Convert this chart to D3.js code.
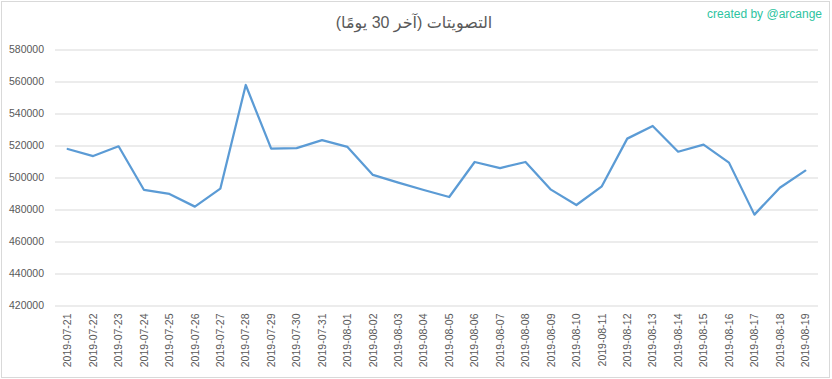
<!DOCTYPE html>
<html>
<head>
<meta charset="utf-8">
<script src="https://cdn.jsdelivr.net/npm/d3@7"></script>
<style>
  body { margin: 0; background: #fff; }
  svg text { font-family: "Liberation Sans", "DejaVu Sans", sans-serif; }
</style>
</head>
<body>
<div id="chart"></div>
<script>
var svgWidth = 832;
var svgHeight = 379;

// chart data
var dates = ["2019-07-21", "2019-07-22", "2019-07-23", "2019-07-24", "2019-07-25",
  "2019-07-26", "2019-07-27", "2019-07-28", "2019-07-29", "2019-07-30",
  "2019-07-31", "2019-08-01", "2019-08-02", "2019-08-03", "2019-08-04",
  "2019-08-05", "2019-08-06", "2019-08-07", "2019-08-08", "2019-08-09",
  "2019-08-10", "2019-08-11", "2019-08-12", "2019-08-13", "2019-08-14",
  "2019-08-15", "2019-08-16", "2019-08-17", "2019-08-18", "2019-08-19"];
var votes = [517800, 513400, 519500, 492200, 489700,
  481800, 493000, 557800, 518000, 518400,
  523400, 519100, 501600, 496800, 492200,
  487800, 509700, 505900, 509700, 492400,
  482800, 494500, 524300, 532200, 516100,
  520500, 509300, 476800, 493600, 504300];
var yTicks = [420000, 440000, 460000, 480000, 500000, 520000, 540000, 560000, 580000];

var titleText = "التصويتات (آخر 30 يومًا)";
var creditText = "created by @arcange";

var margin = { top: 49.5, right: 14, bottom: 73.5, left: 55 };
var width = svgWidth - margin.left - margin.right;
var height = svgHeight - margin.top - margin.bottom;

var svg = d3.select("#chart")
  .append("svg")
  .attr("width", svgWidth)
  .attr("height", svgHeight);

// outer border
svg.append("rect")
  .attr("x", 1.5)
  .attr("y", 1.5)
  .attr("width", 828)
  .attr("height", 376)
  .attr("fill", "#fff")
  .attr("stroke", "#d9d9d9");

var chartGroup = svg.append("g")
  .attr("transform", `translate(${margin.left}, ${margin.top})`);

// scales
var xScale = d3.scaleBand()
  .domain(dates)
  .range([0, width]);

var yScale = d3.scaleLinear()
  .domain([420000, 580000])
  .range([height, 0]);

// grid lines + y labels
var yAxis = d3.axisLeft(yScale)
  .tickValues(yTicks)
  .tickSize(-width)
  .tickPadding(11)
  .tickFormat(d3.format("d"));

var yAxisGroup = chartGroup.append("g").call(yAxis);
yAxisGroup.select(".domain").remove();
yAxisGroup.selectAll("line")
  .attr("stroke", "#d9d9d9");
yAxisGroup.selectAll("text")
  .attr("fill", "#595959")
  .attr("font-size", "10.5px");

// x labels
var xAxis = d3.axisBottom(xScale).tickSize(0);
var xAxisGroup = chartGroup.append("g")
  .attr("transform", `translate(0, ${height})`)
  .call(xAxis);
xAxisGroup.select(".domain").remove();
xAxisGroup.selectAll("text")
  .attr("fill", "#595959")
  .attr("font-size", "10.5px")
  .attr("transform", "rotate(-90)")
  .attr("text-anchor", "end")
  .attr("x", -8)
  .attr("y", 0)
  .attr("dy", "0.35em");

// line
var line = d3.line()
  .x((d, i) => xScale(dates[i]) + xScale.bandwidth() / 2)
  .y(d => yScale(d));

chartGroup.append("path")
  .datum(votes)
  .attr("fill", "none")
  .attr("stroke", "#5b9bd5")
  .attr("stroke-width", 2.25)
  .attr("stroke-linejoin", "round")
  .attr("stroke-linecap", "round")
  .attr("d", line);

// title
svg.append("text")
  .attr("x", 414)
  .attr("y", 28)
  .attr("text-anchor", "middle")
  .attr("direction", "rtl")
  .attr("fill", "#595959")
  .attr("font-size", "16px")
  .text(titleText);

// credit
svg.append("text")
  .attr("x", 822)
  .attr("y", 18)
  .attr("text-anchor", "end")
  .attr("fill", "#2ec4a0")
  .attr("font-size", "12px")
  .text(creditText);
</script>
</body>
</html>
